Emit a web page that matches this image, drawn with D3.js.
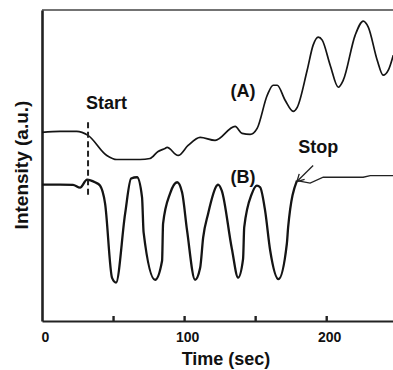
<!DOCTYPE html>
<meta charset="utf-8">
<style>
body { margin: 0; background: #fff; }
text { font-family: 'Liberation Sans', Arial, sans-serif; font-weight: bold; fill: #111; }
.tickLabel { font-size: 14px; }
.axisLabel { font-size: 19px; }
.timeLabel { font-size: 18px; }
.note { font-size: 18px; }
.curveA { fill: none; stroke: #141414; stroke-width: 1.7px; }
.curveB { fill: none; stroke: #141414; stroke-width: 2.3px; stroke-linejoin: round; }
.curveB2 { fill: none; stroke: #222; stroke-width: 1.3px; }
</style>
<svg width="393" height="370"></svg>
<script src="https://d3js.org/d3.v7.min.js"></script>
<script>

// curve (A): time in sec, intensity in a.u.
var timeA = [0, 12.7, 24.4, 32.4, 45.6, 52.6, 69, 76, 81.7, 86.6, 88, 95.8, 102.8, 111.3, 121.8,
  135.9, 140.8, 146.5, 151.4, 158.5, 162.7, 165.5, 171.1, 176.8, 179.6, 186.6, 190.8, 194.4,
  197.2, 202.8, 208.5, 212, 220.4, 226.1, 229.6, 235.9, 240.1, 243.7, 247.2];
var intensA = [188, 189, 189, 185, 165, 161, 161, 162, 169, 172, 173, 165, 175, 183, 180,
  194, 187, 186, 192, 225, 235, 235, 220, 209, 213, 250, 275, 283,
  280, 255, 233, 240, 285, 299, 293, 260, 245, 250, 265];

// curve (B) while the pulses run
var timeB = [0, 12.7, 21.8, 26.8, 31.7, 37.3, 40.8, 44.4, 49.3, 52.1, 58.5, 62.7, 66.9, 70.4,
  71.5, 79.6, 84.5, 85.2, 90.1, 95.1, 98.6, 102.1, 107.7, 111.3, 113.4, 116.9, 123, 123.9,
  126.5, 133.6, 138, 141.5, 142.3, 147.7, 151.2, 153.5, 157, 160.6, 166.4, 172.3, 173.2, 179.4];
var intensB = [136, 136, 135.7, 133, 141, 138.3, 135, 117, 43, 38.3, 107, 142, 143.3, 123.3,
  88.3, 41, 60, 97, 127, 138.3, 128, 90, 41, 53, 83, 107, 135, 136,
  130, 72, 43.3, 62, 93.3, 127, 135, 133.3, 110, 70, 41.7, 77, 93.3, 140];

// curve (B) after stop
var timeB2 = [179.4, 188.7, 197.9, 226, 231, 247.2];
var intensB2 = [140, 137.5, 143.3, 143.3, 145, 145];

var xTicks = [0, 50, 100, 150, 200];
var xTickLabels = ["0", "", "100", "", "200"];

var startTime = 32.4;
var stopTime = 179.4;

var svg = d3.select("svg"),
    margin = {top: 10, right: 0, bottom: 49, left: 42},
    width = +svg.attr("width") - margin.left - margin.right,
    height = +svg.attr("height") - margin.top - margin.bottom;

var x = d3.scaleLinear().domain([0, 247]).range([margin.left, margin.left + width]);
var y = d3.scaleLinear().domain([0, 310]).range([margin.top + height, margin.top]);

var zip = function(t, v) { return t.map(function(d, i) { return [d, v[i]]; }); };

svg.append("defs").append("clipPath").attr("id", "plotClip")
  .append("rect")
    .attr("x", margin.left).attr("y", margin.top)
    .attr("width", width).attr("height", height);

// frame
svg.append("line")
    .attr("x1", margin.left).attr("x2", margin.left + width)
    .attr("y1", margin.top).attr("y2", margin.top)
    .attr("stroke", "#444").attr("stroke-width", 1.6);

svg.append("g")
    .attr("transform", "translate(" + margin.left + ",0)")
    .call(d3.axisLeft(y).ticks(0).tickSizeOuter(0))
    .call(function(g) { g.select(".domain").attr("stroke", "#222").attr("stroke-width", 2.6); });

var xAxis = svg.append("g")
    .attr("transform", "translate(0," + (margin.top + height) + ")")
    .call(d3.axisBottom(x).tickValues(xTicks).tickSize(-5).tickSizeOuter(0)
      .tickFormat(function(d, i) { return xTickLabels[i]; }));
xAxis.select(".domain").attr("stroke", "#222").attr("stroke-width", 2.2);
xAxis.selectAll(".tick line").attr("stroke", "#222").attr("stroke-width", 2.4)
    .attr("opacity", function(d) { return d === 0 ? 0 : 1; });
xAxis.selectAll(".tick text").attr("class", "tickLabel")
    .attr("y", 11).attr("dx", 3).attr("fill", "#111");

// axis titles
svg.append("text")
    .attr("class", "axisLabel")
    .attr("transform", "rotate(-90)")
    .attr("x", -165).attr("y", 28)
    .attr("text-anchor", "middle")
    .text("Intensity (a.u.)");

svg.append("text")
    .attr("class", "timeLabel")
    .attr("x", 226).attr("y", 365)
    .attr("text-anchor", "middle")
    .text("Time (sec)");

var plot = svg.append("g").attr("clip-path", "url(#plotClip)");

plot.append("path")
    .datum(zip(timeA, intensA))
    .attr("class", "curveA")
    .attr("d", d3.line().x(function(d) { return x(d[0]); }).y(function(d) { return y(d[1]); })
      .curve(d3.curveMonotoneX));

plot.append("path")
    .datum(zip(timeB, intensB))
    .attr("class", "curveB")
    .attr("d", d3.line().x(function(d) { return x(d[0]); }).y(function(d) { return y(d[1]); })
      .curve(d3.curveMonotoneX));

plot.append("path")
    .datum(zip(timeB2, intensB2))
    .attr("class", "curveB2")
    .attr("d", d3.line().x(function(d) { return x(d[0]); }).y(function(d) { return y(d[1]); }));

// start marker
svg.append("line")
    .attr("x1", x(startTime)).attr("x2", x(startTime))
    .attr("y1", y(198)).attr("y2", y(123))
    .attr("stroke", "#222").attr("stroke-width", 2)
    .attr("stroke-dasharray", "6,3.5");

// stop arrow
var tipX = x(stopTime), tipY = y(139);
var tailX = x(190.8), tailY = y(155);
svg.append("line")
    .attr("x1", tailX).attr("y1", tailY).attr("x2", tipX).attr("y2", tipY)
    .attr("stroke", "#222").attr("stroke-width", 1.3);
var ang = Math.atan2(tailY - tipY, tailX - tipX);
[-0.5, 0.5].forEach(function(a) {
  svg.append("line")
    .attr("x1", tipX).attr("y1", tipY)
    .attr("x2", tipX + 8 * Math.cos(ang + a)).attr("y2", tipY + 8 * Math.sin(ang + a))
    .attr("stroke", "#222").attr("stroke-width", 1.3);
});

// annotations
svg.append("text").attr("class", "note").attr("text-anchor", "middle")
    .attr("x", x(45.4)).attr("y", y(211)).text("Start");
svg.append("text").attr("class", "note").attr("text-anchor", "middle")
    .attr("x", x(194.4)).attr("y", y(167)).text("Stop");
svg.append("text").attr("class", "note").attr("text-anchor", "middle")
    .attr("x", x(141.5)).attr("y", y(223.5)).text("(A)");
svg.append("text").attr("class", "note").attr("text-anchor", "middle")
    .attr("x", x(141.5)).attr("y", y(138)).text("(B)");

</script>
